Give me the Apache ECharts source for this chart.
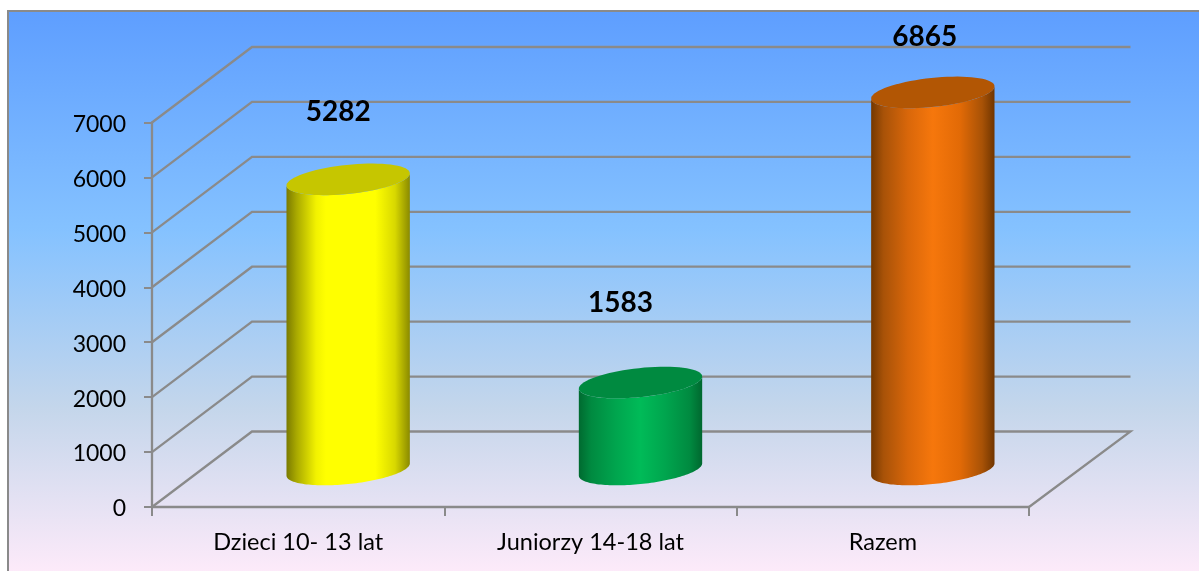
<!DOCTYPE html>
<html>
<head>
<meta charset="utf-8">
<style>html,body{margin:0;padding:0;background:#fff}#c{width:1199px;height:571px}</style>
<script src="https://cdn.jsdelivr.net/npm/echarts@6/dist/echarts.min.js"></script>
</head>
<body>
<div id="c"></div>
<script>
const categories = ['Dzieci 10- 13 lat', 'Juniorzy 14-18 lat', 'Razem'];
const values = [5282, 1583, 6865];
const yTicks = [0, 1000, 2000, 3000, 4000, 5000, 6000, 7000];

// styling and layout, in pixels
const barStyles = [
  { cap: '#c6c600', stops: [[0, '#7a7a00'], [0.08, '#a8a800'], [0.24, '#f2f200'], [0.32, '#ffff00'], [0.72, '#ffff00'], [0.88, '#d8d800'], [1, '#8a8a00']] },
  { cap: '#008a40', stops: [[0, '#006a30'], [0.1, '#008a40'], [0.3, '#00a54e'], [0.5, '#00bb58'], [0.7, '#00a54e'], [0.9, '#008a40'], [1, '#00682f']] },
  { cap: '#b25604', stops: [[0, '#743800'], [0.1, '#a85208'], [0.3, '#d9670a'], [0.5, '#f6770c'], [0.72, '#e26a06'], [0.9, '#a85206'], [1, '#703500']] }
];
const labelShift = [[-10, -67], [-20, -80], [-8, -55]];
const DEPTH_X = 100, DEPTH_Y = 75.5;
const BAR_DX = 50, BAR_DY = 37.5;
const RX = 62, RY = 14.5, TILT = -6 * Math.PI / 180;
const LINE = '#8a8a8a';
const LINE_W = 2.3;

function ellipsePoint(cx, cy, t) {
  const c = Math.cos(t), s = Math.sin(t);
  return [cx + RX * c * Math.cos(TILT) - RY * s * Math.sin(TILT),
          cy + RX * c * Math.sin(TILT) + RY * s * Math.cos(TILT)];
}
function ellipseArc(cx, cy, from, to) {
  const pts = [];
  for (let i = 0; i <= 72; i++) pts.push(ellipsePoint(cx, cy, from + (to - from) * i / 72));
  return pts;
}
function renderWall(params, api) {
  const v = api.value(1);
  const y = api.coord([0, v])[1];
  const cs = params.coordSys;
  const x0 = cs.x, x1 = cs.x + cs.width;
  const pts = [[x0, y], [x0 + DEPTH_X, y - DEPTH_Y], [x1 + DEPTH_X + 1.5, y - DEPTH_Y]];
  if (v === 0) pts.push([x1, y]);
  return { type: 'polyline', shape: { points: pts },
           style: { stroke: LINE, lineWidth: LINE_W, fill: null } };
}
function renderBar(params, api) {
  const i = params.dataIndex;
  const base = api.coord([api.value(0), 0]);
  const top = api.coord([api.value(0), api.value(1)]);
  const cx = base[0] + BAR_DX;
  const by = base[1] - BAR_DY, ty = top[1] - BAR_DY;
  const st = barStyles[i];
  // angle of the right-most point of the tilted ellipse
  const a0 = Math.atan2(-RY * Math.tan(TILT), RX);
  const body = ellipseArc(cx, by, a0, a0 + Math.PI).concat(ellipseArc(cx, ty, a0 + Math.PI, a0));
  return { type: 'group', children: [
    { type: 'polygon', shape: { points: body }, style: {
        fill: new echarts.graphic.LinearGradient(0, 0, 1, 0,
          st.stops.map(s => ({ offset: s[0], color: s[1] }))) } },
    { type: 'polygon', shape: { points: ellipseArc(cx, ty, 0, Math.PI * 2) },
      style: { fill: st.cap } },
    { type: 'text', style: {
        x: cx + labelShift[i][0], y: ty + labelShift[i][1],
        text: String(api.value(1)), fill: '#000', align: 'center', verticalAlign: 'middle',
        font: 'bold 28px Lato' } }
  ] };
}

const chart = echarts.init(document.getElementById('c'), null, { renderer: 'canvas' });
chart.setOption({
  animation: false,
  backgroundColor: '#fff',
  graphic: [{ type: 'rect', z: -10, silent: true,
    shape: { x: 8, y: 11, width: 1300, height: 566 },
    style: { stroke: LINE, lineWidth: 2,
      fill: new echarts.graphic.LinearGradient(0, 0, 0, 1, [
        { offset: 0, color: '#5e9eff' }, { offset: 0.39, color: '#85c2ff' },
        { offset: 0.7, color: '#c4d6eb' }, { offset: 1, color: '#ffebfa' }]) } }],
  grid: { left: 152, right: 170, top: 122.5, bottom: 64 },
  xAxis: { type: 'category', data: categories,
    axisLine: { lineStyle: { color: LINE, width: LINE_W } },
    axisTick: { show: true, alignWithLabel: false, length: 9, lineStyle: { color: LINE, width: 2 } },
    axisLabel: { color: '#000', fontFamily: 'Lato', fontSize: 23.5, margin: 23, interval: 0 },
    splitLine: { show: false } },
  yAxis: { type: 'value', min: 0, max: 7000, interval: 1000,
    axisLine: { show: true, lineStyle: { color: LINE, width: LINE_W } },
    axisTick: { show: true, length: 8, lineStyle: { color: LINE, width: 2 } },
    axisLabel: { margin: 26, formatter: v => '{t|' + v + '}',
      rich: { t: { color: '#000', fontFamily: 'Lato', fontSize: 23, padding: [4, 0, 0, 0] } } },
    splitLine: { show: false } },
  series: [
    { type: 'custom', name: 'grid', z: 1, renderItem: renderWall, silent: true,
      encode: { x: 0, y: 1 }, data: yTicks.map(v => [0, v]) },
    { type: 'custom', name: 'Liczba', z: 3, renderItem: renderBar,
      encode: { x: 0, y: 1 }, data: values.map((v, i) => [i, v]) }
  ]
});
</script>
</body>
</html>
